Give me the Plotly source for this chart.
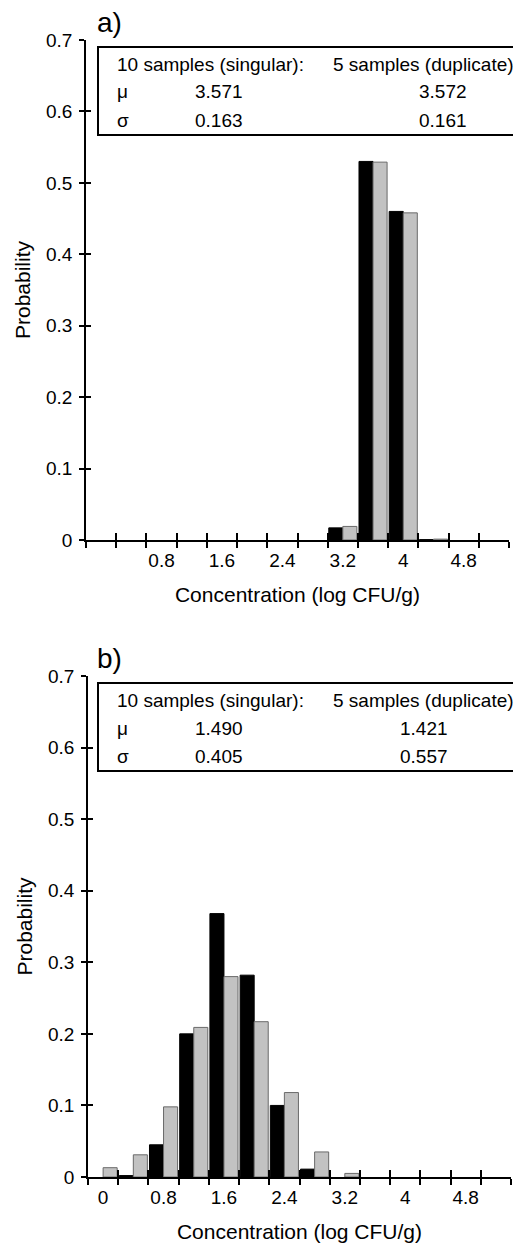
import plotly.graph_objects as go

# ---------------- data ----------------
concentration = [0.0, 0.4, 0.8, 1.2, 1.6, 2.0, 2.4, 2.8, 3.2, 3.6, 4.0, 4.4, 4.8, 5.2]
bin_edges = [-0.2, 0.2, 0.6, 1.0, 1.4, 1.8, 2.2, 2.6, 3.0, 3.4, 3.8, 4.2, 4.6, 5.0, 5.4]

a_singular = [0, 0, 0, 0, 0, 0, 0, 0, 0.017, 0.530, 0.460, 0.0005, 0, 0]
a_duplicate = [0, 0, 0, 0, 0, 0, 0, 0, 0.019, 0.529, 0.458, 0.0012, 0, 0]

b_singular = [0, 0.002, 0.045, 0.200, 0.368, 0.282, 0.100, 0.011, 0, 0, 0, 0, 0, 0]
b_duplicate = [0.013, 0.031, 0.098, 0.209, 0.280, 0.217, 0.118, 0.035, 0.005, 0, 0, 0, 0, 0]

a_tickvals = [0.8, 1.6, 2.4, 3.2, 4.0, 4.8]
a_ticktext = ["0.8", "1.6", "2.4", "3.2", "4", "4.8"]
b_tickvals = [0.0, 0.8, 1.6, 2.4, 3.2, 4.0, 4.8]
b_ticktext = ["0", "0.8", "1.6", "2.4", "3.2", "4", "4.8"]

table_header = ["10 samples (singular):", "5 samples (duplicate):"]
a_mu = ["3.571", "3.572"]
a_sigma = ["0.163", "0.161"]
b_mu = ["1.490", "1.421"]
b_sigma = ["0.405", "0.557"]

# ---------------- layout helpers ----------------
# the page body has an 8px default margin: size the figure to fit the window
OFF = 8
W, H = 521 - OFF, 1244 - OFF
FONT = "Liberation Sans, Arial, Helvetica, sans-serif"


def fx(p):
    # p: window pixel x -> paper fraction
    return (p - OFF) / W


def fy(p):
    # p: window pixel y (from top) -> paper fraction
    return 1 - (p - OFF) / H


def nz(vals):
    # zero-probability bins draw no bar
    return [v if v > 0 else None for v in vals]


BLACK = "#000000"
GRAY = "#c2c2c2"
GRAY_LINE = "#6a6a6a"

fig = go.Figure()

fig.add_trace(go.Bar(x=concentration, y=nz(a_singular), xaxis="x", yaxis="y",
                     marker=dict(color=BLACK, line=dict(color=BLACK, width=1)),
                     showlegend=False, name="10 samples (singular)"))
fig.add_trace(go.Bar(x=concentration, y=nz(a_duplicate), xaxis="x", yaxis="y",
                     marker=dict(color=GRAY, line=dict(color=GRAY_LINE, width=1)),
                     showlegend=False, name="5 samples (duplicate)"))
fig.add_trace(go.Bar(x=concentration, y=nz(b_singular), xaxis="x2", yaxis="y2",
                     marker=dict(color=BLACK, line=dict(color=BLACK, width=1)),
                     showlegend=False, name="10 samples (singular)"))
fig.add_trace(go.Bar(x=concentration, y=nz(b_duplicate), xaxis="x2", yaxis="y2",
                     marker=dict(color=GRAY, line=dict(color=GRAY_LINE, width=1)),
                     showlegend=False, name="5 samples (duplicate)"))
for xa, ya in [("x3", "y3"), ("x4", "y4")]:
    fig.add_trace(go.Scatter(x=[None], y=[None], xaxis=xa, yaxis=ya,
                             showlegend=False, hoverinfo="skip"))

tick_font = dict(family=FONT, size=19, color="black")
title_font = dict(family=FONT, size=21, color="black")

panels = {
    "a": dict(x0=86, x1=509, y0=40, y1=540, tv=a_tickvals, tt=a_ticktext),
    "b": dict(x0=88, x1=511, y0=676, y1=1177, tv=b_tickvals, tt=b_ticktext),
}


def main_x(p, anchor):
    return dict(domain=[fx(p["x0"]), fx(p["x1"])], anchor=anchor, automargin=False,
                range=[bin_edges[0], bin_edges[-1]], tickmode="array",
                tickvals=p["tv"], ticktext=p["tt"], ticks="",
                ticklabelstandoff=2,
                minor=dict(tickmode="array", tickvals=bin_edges, ticks="outside",
                           ticklen=6, tickwidth=1.5, tickcolor="black", showgrid=False),
                showline=True, linecolor="black", linewidth=1.5,
                showgrid=False, zeroline=False, tickfont=tick_font,
                title=dict(text="Concentration (log CFU/g)", font=title_font, standoff=18))


def main_y(p, anchor):
    return dict(domain=[fy(p["y1"]), fy(p["y0"])], anchor=anchor, automargin=False,
                range=[0, 0.7], tickmode="linear", tick0=0, dtick=0.1,
                ticks="outside", ticklen=5, tickwidth=1.5, tickcolor="black",
                ticklabelstandoff=3,
                showline=True, linecolor="black", linewidth=1.5,
                showgrid=False, zeroline=False, tickfont=tick_font,
                title=dict(text="Probability", font=title_font, standoff=10))


def over_x(over, anchor):
    return dict(overlaying=over, anchor=anchor, automargin=False,
                range=[bin_edges[0], bin_edges[-1]],
                tickmode="array", tickvals=bin_edges, ticks="inside", ticklen=7,
                tickwidth=1.5, tickcolor="black", showticklabels=False,
                showline=False, showgrid=False, zeroline=False, side="bottom")


def over_y(over, anchor):
    return dict(overlaying=over, anchor=anchor, automargin=False, range=[0, 0.7],
                tickmode="linear", tick0=0, dtick=0.1, ticks="inside", ticklen=5,
                tickwidth=1.5, tickcolor="black", showticklabels=False, showline=False,
                showgrid=False, zeroline=False, side="left")


pa, pb = panels["a"], panels["b"]
fig.update_layout(
    width=W, height=H,
    margin=dict(l=0, r=0, t=0, b=0, autoexpand=False),
    paper_bgcolor="white", plot_bgcolor="rgba(0,0,0,0)",
    barmode="group", bargap=0.07, bargroupgap=0.0,
    font=dict(family=FONT, color="black"),
    xaxis=main_x(pa, "y"), yaxis=main_y(pa, "x"),
    xaxis2=main_x(pb, "y2"), yaxis2=main_y(pb, "x2"),
    xaxis3=over_x("x", "y3"), yaxis3=over_y("y", "x3"),
    xaxis4=over_x("x2", "y4"), yaxis4=over_y("y2", "x4"),
)

# ---------------- panel labels and stats tables ----------------
annotations = []
shapes = []
tfont = dict(family=FONT, size=19, color="black")


def add_table(label, top, mu, sigma, col2_x):
    annotations.append(dict(text=label, x=fx(95), y=fy(top - 25),
                            font=dict(family=FONT, size=28, color="black")))
    shapes.append(dict(type="rect", xref="paper", yref="paper",
                       x0=fx(98), x1=fx(519), y0=fy(top), y1=fy(top + 88),
                       line=dict(color="black", width=2), fillcolor="white", layer="above"))
    annotations.append(dict(text=table_header[0], x=fx(115), y=fy(top + 17)))
    annotations.append(dict(text=table_header[1], x=fx(331), y=fy(top + 17)))
    annotations.append(dict(text="\u03bc", x=fx(115), y=fy(top + 45)))
    annotations.append(dict(text=mu[0], x=fx(193), y=fy(top + 45)))
    annotations.append(dict(text=mu[1], x=fx(col2_x), y=fy(top + 45)))
    annotations.append(dict(text="\u03c3", x=fx(115), y=fy(top + 73)))
    annotations.append(dict(text=sigma[0], x=fx(193), y=fy(top + 73)))
    annotations.append(dict(text=sigma[1], x=fx(col2_x), y=fy(top + 73)))


add_table("a)", 47, a_mu, a_sigma, 417)
add_table("b)", 683, b_mu, b_sigma, 398)

for a in annotations:
    a.setdefault("xref", "paper")
    a.setdefault("yref", "paper")
    a.setdefault("xanchor", "left")
    a.setdefault("yanchor", "middle")
    a.setdefault("showarrow", False)
    a.setdefault("font", tfont)

fig.update_layout(annotations=annotations, shapes=shapes)

fig.write_html("out.html")
